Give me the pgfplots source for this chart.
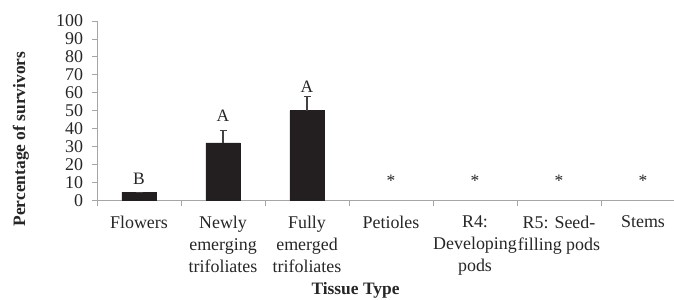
\documentclass[border=0pt]{standalone}
\usepackage{pgfplots}
\pgfplotsset{compat=1.18}
\usepackage{fontspec}
\setmainfont{Liberation Serif}
\definecolor{barc}{HTML}{231F20}
\definecolor{axc}{HTML}{A6A6A6}
\definecolor{txt}{HTML}{262626}
\begin{document}
\begin{tikzpicture}[x=1bp,y=1bp]
\useasboundingbox (0,0) rectangle (674,299);
\begin{axis}[
  at={(97bp,98.7bp)}, anchor=south west,
  scale only axis, width=577bp, height=179.3bp,
  xmin=-0.5, xmax=6.369, ymin=0, ymax=100,
  axis lines*=left,
  axis line style={axc, line width=0.8bp},
  tick align=outside,
  major tick length=5.5bp,
  tick style={axc, line width=0.8bp},
  ytick={0,10,...,100},
  xtick={-0.5,0.5,1.5,2.5,3.5,4.5,5.5},
  xticklabels={},
  extra x ticks={0,1,2,3,4,5,6},
  extra x tick labels={{Flowers},{Newly\\emerging\\trifoliates},{Fully\\emerged\\trifoliates},{Petioles},{R4:\\Developing\\pods},{R5: Seed-\\filling pods},{Stems}},
  extra x tick style={major tick length=0pt, tick style={draw=none}},
  xticklabel style={align=center, anchor=north, yshift=-12bp},
  yticklabel style={xshift=-5bp},
  every tick label/.append style={font=\fontsize{18}{22}\selectfont, text=txt},
  /pgf/number format/assume math mode=true,
  clip=false,
]
\addplot[ybar, bar width=0.405, fill=barc, draw=barc,
  error bars/.cd, y dir=plus, y explicit,
  error bar style={line width=1.2bp, color=barc!85!white},
  error mark options={rotate=90, mark size=3.5bp, line width=1.2bp, color=barc!85!white}]
  coordinates {(0,4.5) +- (0,0) (1,32) +- (0,7) (2,50) +- (0,8)};
\node[anchor=base, font=\fontsize{17.5}{22}\selectfont, text=txt] at (axis cs:0,8.6) {B};
\node[anchor=base, font=\fontsize{17.5}{22}\selectfont, text=txt] at (axis cs:1,44.0) {A};
\node[anchor=base, font=\fontsize{17.5}{22}\selectfont, text=txt] at (axis cs:2,60.1) {A};
\node[anchor=base, font=\fontsize{17.5}{22}\selectfont, text=txt] at (axis cs:3,7.7) {*};
\node[anchor=base, font=\fontsize{17.5}{22}\selectfont, text=txt] at (axis cs:4,7.7) {*};
\node[anchor=base, font=\fontsize{17.5}{22}\selectfont, text=txt] at (axis cs:5,7.7) {*};
\node[anchor=base, font=\fontsize{17.5}{22}\selectfont, text=txt] at (axis cs:6,7.7) {*};
\end{axis}
\node[rotate=90, font=\bfseries\fontsize{17.5}{22}\selectfont, text=txt] at (21,160) {Percentage of survivors};
\node[anchor=base, font=\bfseries\fontsize{17.5}{22}\selectfont, text=txt] at (355.5,5) {Tissue Type};
\end{tikzpicture}
\end{document}
